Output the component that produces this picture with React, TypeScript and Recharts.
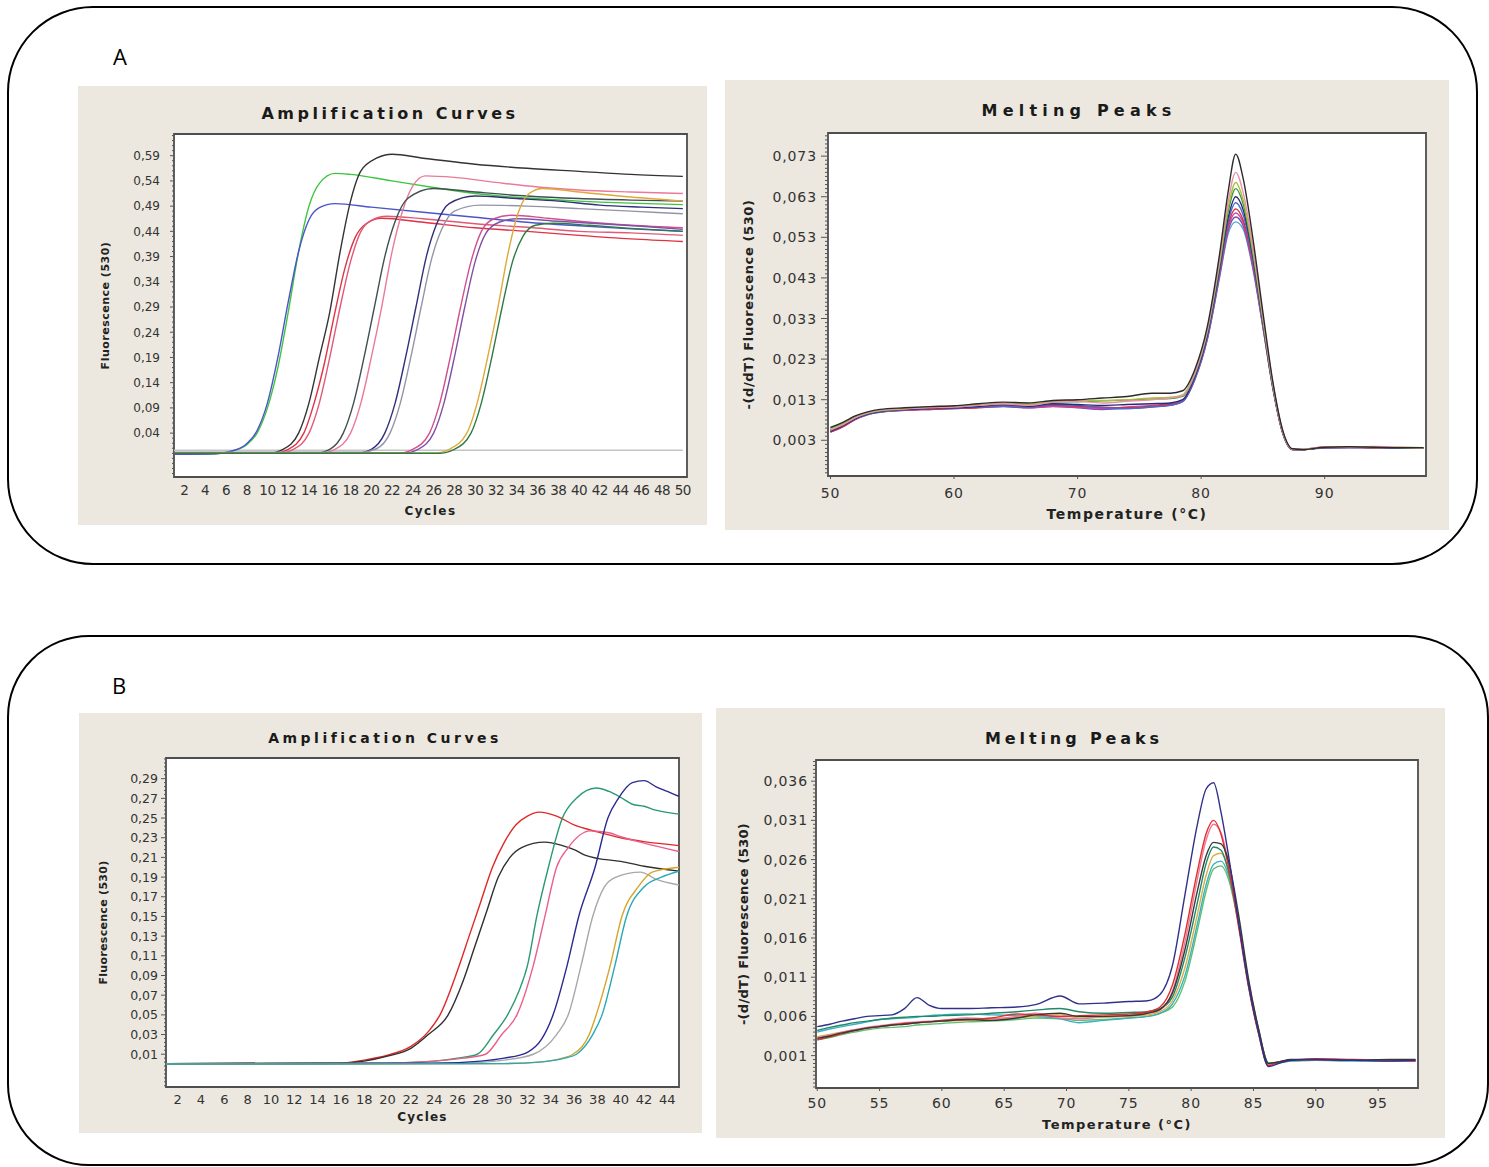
import { LineChart, Line, XAxis, YAxis, CartesianGrid, ReferenceArea } from "recharts";

const FONT = '"DejaVu Sans", Verdana, sans-serif';
const BEIGE = "#ece8df";
const AXIS = "#555";

// ---------- A: amplification curves, [cycle, fluorescence] ----------
const ampAGreen = [[1, -0.002], [5, -0.001], [6.5, 0.004], [8, 0.017], [9, 0.04], [10, 0.09], [11, 0.17], [12, 0.28], [13, 0.4], [14, 0.49], [15, 0.535], [16.5, 0.555], [18, 0.553], [22, 0.54], [26, 0.527], [30, 0.515], [35, 0.506], [40, 0.5], [45, 0.496], [50, 0.493]];
const ampABlue = [[1, -0.002], [5, -0.001], [6.5, 0.004], [8, 0.019], [9, 0.045], [10, 0.1], [11, 0.19], [12, 0.3], [13, 0.4], [14, 0.463], [15, 0.487], [16.5, 0.495], [20, 0.488], [25, 0.478], [30, 0.468], [35, 0.458], [40, 0.451], [45, 0.445], [50, 0.44]];
const ampABlack = [[1, 0], [10, 0], [11.5, 0.008], [13, 0.04], [14, 0.1], [15, 0.19], [16, 0.28], [17, 0.4], [18, 0.5], [19, 0.56], [20.5, 0.585], [22, 0.593], [25, 0.585], [30, 0.573], [35, 0.565], [40, 0.559], [45, 0.553], [50, 0.549]];
const ampARed = [[1, 0], [10.5, 0], [12, 0.008], [13.5, 0.04], [14.5, 0.1], [15.5, 0.18], [16.5, 0.28], [17.5, 0.37], [18.5, 0.43], [19.5, 0.455], [21, 0.466], [25, 0.458], [30, 0.447], [35, 0.44], [40, 0.432], [45, 0.425], [50, 0.42]];
const ampARose = [[1, 0], [11, 0], [12.5, 0.008], [14, 0.04], [15, 0.1], [16, 0.19], [17, 0.29], [18, 0.38], [19, 0.44], [20, 0.462], [21.5, 0.47], [25, 0.465], [30, 0.455], [35, 0.448], [40, 0.44], [45, 0.437], [50, 0.432]];
const ampAPink = [[1, 0], [15, 0], [16.5, 0.008], [18, 0.04], [19, 0.1], [20, 0.19], [21, 0.29], [22, 0.4], [23, 0.48], [24, 0.53], [25.2, 0.55], [28, 0.547], [32, 0.537], [36, 0.528], [40, 0.522], [45, 0.518], [50, 0.515]];
const ampASlate = [[1, 0], [14.5, 0], [16, 0.008], [17.3, 0.04], [18.3, 0.1], [19.3, 0.19], [20.3, 0.29], [21.3, 0.39], [22.3, 0.46], [23.5, 0.505], [26, 0.525], [30, 0.518], [35, 0.51], [40, 0.505], [45, 0.502], [50, 0.5]];
const ampANavy = [[1, 0], [18.5, 0], [20, 0.008], [21.3, 0.04], [22.3, 0.1], [23.3, 0.19], [24.3, 0.29], [25.3, 0.39], [26.3, 0.455], [27.5, 0.495], [30, 0.51], [34, 0.505], [38, 0.5], [42, 0.492], [46, 0.488], [50, 0.485]];
const ampAGrey = [[1, 0.002], [19, 0.002], [20.5, 0.009], [21.8, 0.04], [22.8, 0.1], [23.8, 0.19], [24.8, 0.29], [25.8, 0.385], [26.8, 0.445], [28, 0.48], [30.5, 0.492], [35, 0.49], [40, 0.485], [45, 0.48], [50, 0.475]];
const ampAMagenta = [[1, 0], [22.5, 0], [24, 0.008], [25.6, 0.04], [26.6, 0.1], [27.6, 0.19], [28.6, 0.29], [29.6, 0.38], [30.6, 0.44], [31.8, 0.465], [33.5, 0.472], [37, 0.466], [40, 0.46], [45, 0.452], [50, 0.447]];
const ampAPurple = [[1, 0], [23, 0], [24.5, 0.008], [26, 0.04], [27, 0.1], [28, 0.19], [29, 0.29], [30, 0.38], [31, 0.435], [32.3, 0.458], [34, 0.465], [38, 0.46], [42, 0.455], [46, 0.45], [50, 0.444]];
const ampAOrange = [[1, 0], [26, 0], [27.5, 0.008], [29.2, 0.04], [30.2, 0.1], [31.2, 0.19], [32.2, 0.29], [33.2, 0.4], [34.2, 0.48], [35.2, 0.515], [36.5, 0.525], [40, 0.518], [45, 0.508], [50, 0.5]];
const ampADarkGreen = [[1, 0], [26.5, 0], [28, 0.008], [29.6, 0.04], [30.6, 0.1], [31.6, 0.19], [32.6, 0.29], [33.6, 0.38], [34.6, 0.43], [35.8, 0.452], [37.5, 0.456], [41, 0.452], [45, 0.446], [50, 0.44]];
const ampANegative = [[1, 0.006], [10, 0.006], [20, 0.006], [30, 0.006], [40, 0.006], [50, 0.006]];

const ampAXTicks = [2, 4, 6, 8, 10, 12, 14, 16, 18, 20, 22, 24, 26, 28, 30, 32, 34, 36, 38, 40, 42, 44, 46, 48, 50];
const ampAYTicks = [0.04, 0.09, 0.14, 0.19, 0.24, 0.29, 0.34, 0.39, 0.44, 0.49, 0.54, 0.59];

// ---------- A: melting peaks ----------
const meltATemps = [50, 51, 52, 53, 54, 56, 58, 60, 62, 64, 66, 68, 70, 72, 74, 76, 77.5, 78.5, 79.5, 80.5, 81.5, 82.2, 82.8, 83.4, 84.2, 85, 85.8, 86.6, 87.4, 88.2, 90, 92, 94, 96, 98];
const meltABlack = [0.0062, 0.0074, 0.009, 0.01, 0.0106, 0.011, 0.0113, 0.0115, 0.012, 0.0124, 0.0122, 0.0128, 0.013, 0.0134, 0.0138, 0.0146, 0.0146, 0.0152, 0.0205, 0.031, 0.049, 0.0645, 0.0735, 0.0675, 0.0525, 0.0345, 0.0175, 0.0055, 0.0009, 0.0007, 0.0013, 0.0014, 0.0013, 0.0012, 0.0012];
const meltAPink = [0.0055, 0.0068, 0.0085, 0.0097, 0.0104, 0.0108, 0.011, 0.0112, 0.0116, 0.012, 0.0116, 0.0124, 0.0126, 0.0122, 0.0126, 0.013, 0.0134, 0.014, 0.0195, 0.03, 0.0475, 0.062, 0.069, 0.064, 0.0505, 0.0335, 0.017, 0.0052, 0.0008, 0.0008, 0.0014, 0.0013, 0.0015, 0.0013, 0.0011];
const meltAYellowGreen = [0.0058, 0.007, 0.0086, 0.0098, 0.0103, 0.0107, 0.0112, 0.0114, 0.0118, 0.0121, 0.0119, 0.0125, 0.0129, 0.0128, 0.013, 0.0134, 0.0136, 0.0142, 0.0198, 0.0302, 0.047, 0.0605, 0.0665, 0.0622, 0.0495, 0.033, 0.0168, 0.0052, 0.0008, 0.0008, 0.0013, 0.0013, 0.0012, 0.0013, 0.0012];
const meltAGreen = [0.006, 0.0071, 0.0087, 0.0096, 0.0102, 0.0108, 0.0111, 0.0113, 0.0117, 0.0119, 0.0117, 0.0124, 0.0125, 0.0127, 0.0129, 0.0132, 0.0133, 0.0138, 0.0192, 0.0295, 0.0462, 0.0595, 0.065, 0.0612, 0.0488, 0.0326, 0.0166, 0.0051, 0.0008, 0.0008, 0.0013, 0.0014, 0.0013, 0.0012, 0.0011];
const meltANavy = [0.0052, 0.0066, 0.0083, 0.0095, 0.0101, 0.0106, 0.0108, 0.011, 0.0113, 0.0118, 0.0114, 0.012, 0.0118, 0.0116, 0.0118, 0.012, 0.0122, 0.013, 0.0188, 0.029, 0.0455, 0.058, 0.063, 0.0598, 0.048, 0.0322, 0.0165, 0.005, 0.0008, 0.0007, 0.0012, 0.0013, 0.0012, 0.0012, 0.0011];
const meltABlue = [0.0056, 0.0069, 0.0084, 0.0094, 0.01, 0.0105, 0.0108, 0.0109, 0.0112, 0.0114, 0.0112, 0.0118, 0.0116, 0.011, 0.0108, 0.0112, 0.0116, 0.0126, 0.0184, 0.0285, 0.0448, 0.057, 0.0615, 0.0585, 0.0472, 0.0318, 0.0163, 0.005, 0.0007, 0.0007, 0.0012, 0.0012, 0.0013, 0.0011, 0.0011];
const meltARed = [0.005, 0.0064, 0.0082, 0.0094, 0.01, 0.0104, 0.0106, 0.0108, 0.011, 0.0114, 0.0112, 0.0116, 0.0114, 0.0112, 0.011, 0.0114, 0.0118, 0.0128, 0.0186, 0.0286, 0.0445, 0.0562, 0.06, 0.0572, 0.0465, 0.0315, 0.0162, 0.0049, 0.0007, 0.0007, 0.0012, 0.0013, 0.0012, 0.0012, 0.001];
const meltAMagenta = [0.0054, 0.0067, 0.0084, 0.0095, 0.0102, 0.0106, 0.0107, 0.011, 0.0112, 0.0116, 0.011, 0.0114, 0.0112, 0.0108, 0.0112, 0.0116, 0.012, 0.0127, 0.0183, 0.0282, 0.044, 0.0555, 0.059, 0.0565, 0.046, 0.0312, 0.016, 0.0049, 0.0007, 0.0008, 0.0012, 0.0012, 0.0012, 0.0012, 0.0011];
const meltAPurple = [0.005, 0.0063, 0.0081, 0.0093, 0.0099, 0.0104, 0.0106, 0.0108, 0.0111, 0.0113, 0.011, 0.0113, 0.011, 0.0106, 0.0108, 0.0112, 0.0116, 0.0125, 0.0181, 0.028, 0.0436, 0.0548, 0.058, 0.0558, 0.0455, 0.031, 0.016, 0.0048, 0.0007, 0.0007, 0.0012, 0.0012, 0.0011, 0.0011, 0.001];
const meltALightBlue = [0.0053, 0.0066, 0.0083, 0.0094, 0.01, 0.0105, 0.0107, 0.0109, 0.0112, 0.0115, 0.0112, 0.0115, 0.0113, 0.011, 0.011, 0.0114, 0.0118, 0.0126, 0.018, 0.0278, 0.0432, 0.054, 0.0568, 0.055, 0.045, 0.0308, 0.0158, 0.0048, 0.0007, 0.0007, 0.0011, 0.0012, 0.0012, 0.0011, 0.0011];

const meltAXTicks = [50, 60, 70, 80, 90];
const meltAYTicks = [0.003, 0.013, 0.023, 0.033, 0.043, 0.053, 0.063, 0.073];

// ---------- B: amplification curves ----------
const ampBRed = [[1, 0.0005], [16, 0.001], [18, 0.004], [20, 0.009], [22, 0.018], [23.5, 0.033], [24.5, 0.05], [26, 0.095], [27, 0.13], [28, 0.165], [29, 0.2], [30, 0.225], [31, 0.243], [32, 0.252], [33, 0.256], [34.5, 0.252], [36, 0.243], [38, 0.236], [40, 0.23], [42, 0.226], [45, 0.222]];
const ampBBlack = [[1, 0.0005], [16, 0.001], [18, 0.003], [20, 0.008], [22, 0.016], [23.5, 0.03], [25.2, 0.05], [26.5, 0.085], [27.5, 0.12], [28.5, 0.155], [29.5, 0.19], [30.5, 0.21], [31.5, 0.22], [33.5, 0.2255], [35, 0.222], [36, 0.218], [37, 0.212], [38, 0.209], [40, 0.206], [42, 0.201], [45, 0.196]];
const ampBTeal = [[1, 0], [20, 0.001], [24, 0.003], [26, 0.006], [27.7, 0.01], [29.1, 0.03], [30.3, 0.05], [31.3, 0.075], [32, 0.1], [32.8, 0.15], [33.8, 0.2], [35, 0.25], [36.2, 0.27], [37.9, 0.2805], [39, 0.277], [40, 0.271], [41, 0.264], [42, 0.262], [43, 0.258], [45, 0.254]];
const ampBPink = [[1, 0], [20, 0.001], [24, 0.003], [26.5, 0.006], [28.4, 0.01], [29.8, 0.03], [31.1, 0.05], [32.5, 0.1], [33.5, 0.15], [34.5, 0.2], [35.5, 0.22], [37.4, 0.237], [39, 0.235], [40, 0.231], [42, 0.2245], [45, 0.216]];
const ampBNavy = [[1, 0], [24, 0.001], [28, 0.003], [30, 0.006], [32, 0.012], [33.2, 0.025], [34.2, 0.05], [35.4, 0.1], [36.4, 0.15], [37.8, 0.2], [38.9, 0.25], [39.8, 0.27], [41, 0.286], [42, 0.288], [43, 0.282], [44, 0.277], [45, 0.272]];
const ampBGrey = [[1, 0], [26, 0.001], [30, 0.004], [32.5, 0.01], [34.5, 0.03], [35.5, 0.05], [36.6, 0.1], [37.6, 0.15], [38.6, 0.18], [39.6, 0.19], [41.7, 0.195], [43, 0.188], [45, 0.182]];
const ampBOrange = [[1, 0], [30, 0.0005], [33, 0.002], [35, 0.006], [35.9, 0.01], [37.3, 0.03], [37.9, 0.05], [39.1, 0.1], [40.1, 0.15], [41.5, 0.18], [42.7, 0.195], [45, 0.2]];
const ampBCyan = [[1, 0], [30, 0.0005], [33, 0.002], [35.2, 0.006], [36.2, 0.01], [37.6, 0.03], [38.4, 0.05], [39.5, 0.1], [40.5, 0.15], [42, 0.18], [43.5, 0.19], [45, 0.196]];

const ampBXTicks = [2, 4, 6, 8, 10, 12, 14, 16, 18, 20, 22, 24, 26, 28, 30, 32, 34, 36, 38, 40, 42, 44];
const ampBYTicks = [0.01, 0.03, 0.05, 0.07, 0.09, 0.11, 0.13, 0.15, 0.17, 0.19, 0.21, 0.23, 0.25, 0.27, 0.29];

// ---------- B: melting peaks ----------
const meltBTemps = [50, 51, 52, 53, 54, 55, 56, 57, 58, 59, 60, 62, 64, 66, 67.5, 69.5, 71, 73, 75, 76.5, 77.5, 78.5, 79.5, 80.5, 81.2, 81.8, 82.4, 83, 83.8, 84.6, 85.4, 86.2, 87, 88, 90, 93, 96, 98];
const meltBNavy = [0.0047, 0.005, 0.0054, 0.0057, 0.006, 0.0061, 0.0062, 0.007, 0.0084, 0.0074, 0.007, 0.007, 0.0071, 0.0072, 0.0075, 0.0086, 0.0076, 0.0077, 0.0079, 0.008, 0.0088, 0.0125, 0.0215, 0.0305, 0.035, 0.0358, 0.032, 0.0265, 0.018, 0.01, 0.004, -0.0004, 0, 0.0004, 0.0005, 0.0004, 0.0003, 0.0004];
const meltBRed = [0.003, 0.0034, 0.0038, 0.0042, 0.0045, 0.0047, 0.0049, 0.0051, 0.0052, 0.0053, 0.0055, 0.0056, 0.0058, 0.0063, 0.0062, 0.006, 0.0061, 0.0062, 0.0063, 0.0066, 0.0072, 0.01, 0.0165, 0.0245, 0.0293, 0.031, 0.0292, 0.025, 0.0175, 0.0098, 0.0038, -0.0003, 0.0002, 0.0004, 0.0006, 0.0005, 0.0004, 0.0003];
const meltBPink = [0.0033, 0.0036, 0.004, 0.0043, 0.0046, 0.0048, 0.005, 0.0052, 0.0053, 0.0054, 0.0055, 0.0058, 0.0057, 0.006, 0.0064, 0.0058, 0.0057, 0.006, 0.0061, 0.0064, 0.0068, 0.0092, 0.0155, 0.0235, 0.0285, 0.0305, 0.0294, 0.0255, 0.018, 0.01, 0.004, -0.0002, 0.0002, 0.0004, 0.0005, 0.0004, 0.0004, 0.0003];
const meltBDarkGreen = [0.0042, 0.0046, 0.0049, 0.0052, 0.0054, 0.0056, 0.0058, 0.0059, 0.006, 0.006, 0.0061, 0.0062, 0.0064, 0.0066, 0.0068, 0.007, 0.0066, 0.0064, 0.0065, 0.0066, 0.007, 0.0085, 0.0135, 0.0205, 0.0255, 0.0276, 0.0272, 0.0245, 0.018, 0.0103, 0.0042, 0, 0.0001, 0.0004, 0.0005, 0.0004, 0.0004, 0.0004];
const meltBLightGreen = [0.003, 0.0033, 0.0037, 0.004, 0.0043, 0.0045, 0.0046, 0.0047, 0.0049, 0.005, 0.0051, 0.0053, 0.0054, 0.0056, 0.0058, 0.0057, 0.0055, 0.0056, 0.0058, 0.006, 0.0064, 0.0072, 0.0105, 0.017, 0.022, 0.0248, 0.0252, 0.0235, 0.0178, 0.0105, 0.0044, 0.0001, 0.0001, 0.0003, 0.0004, 0.0004, 0.0003, 0.0003];
const meltBOrange = [0.0034, 0.0037, 0.004, 0.0043, 0.0045, 0.0047, 0.0049, 0.005, 0.0052, 0.0053, 0.0054, 0.0055, 0.0057, 0.0058, 0.006, 0.0062, 0.0058, 0.0059, 0.006, 0.0062, 0.0066, 0.008, 0.0122, 0.019, 0.024, 0.0265, 0.0268, 0.0245, 0.0182, 0.0105, 0.0043, 0, 0.0002, 0.0004, 0.0005, 0.0004, 0.0004, 0.0004];
const meltBCyan = [0.004, 0.0044, 0.0047, 0.005, 0.0053, 0.0056, 0.0057, 0.0058, 0.0059, 0.0061, 0.0062, 0.0063, 0.0062, 0.0061, 0.006, 0.0057, 0.0052, 0.0055, 0.0058, 0.006, 0.0064, 0.0076, 0.0112, 0.0178, 0.0228, 0.0254, 0.0258, 0.024, 0.018, 0.0104, 0.0043, 0, 0.0001, 0.0003, 0.0004, 0.0003, 0.0003, 0.0003];
const meltBBlack = [0.0032, 0.0035, 0.0039, 0.0042, 0.0045, 0.0047, 0.0049, 0.005, 0.0052, 0.0053, 0.0054, 0.0056, 0.0055, 0.0058, 0.0062, 0.0064, 0.006, 0.006, 0.0061, 0.0064, 0.0069, 0.009, 0.0145, 0.022, 0.0265, 0.0282, 0.028, 0.0258, 0.019, 0.0108, 0.0045, 0, 0.0002, 0.0005, 0.0005, 0.0004, 0.0005, 0.0005];

const meltBXTicks = [50, 55, 60, 65, 70, 75, 80, 85, 90, 95];
const meltBYTicks = [0.001, 0.006, 0.011, 0.016, 0.021, 0.026, 0.031, 0.036];

type Pt = { x: number; y: number };
type Series = { color: string; data: Pt[] };

const pairs = (arr: number[][]): Pt[] => arr.map(([x, y]) => ({ x, y }));
const table = (xs: number[], ys: number[]): Pt[] => xs.map((x, i) => ({ x, y: ys[i] }));

const ampASeries: Series[] = [
  { color: "#c4c4c4", data: pairs(ampANegative) },
  { color: "#3fc43f", data: pairs(ampAGreen) },
  { color: "#4a55cc", data: pairs(ampABlue) },
  { color: "#333333", data: pairs(ampABlack) },
  { color: "#dd3344", data: pairs(ampARed) },
  { color: "#e05a78", data: pairs(ampARose) },
  { color: "#ea7a98", data: pairs(ampAPink) },
  { color: "#405050", data: pairs(ampASlate) },
  { color: "#30307a", data: pairs(ampANavy) },
  { color: "#9494a8", data: pairs(ampAGrey) },
  { color: "#d0508c", data: pairs(ampAMagenta) },
  { color: "#8050a8", data: pairs(ampAPurple) },
  { color: "#e0a838", data: pairs(ampAOrange) },
  { color: "#2f7a45", data: pairs(ampADarkGreen) },
];

const meltASeries: Series[] = [
  { color: "#58a8d8", data: table(meltATemps, meltALightBlue) },
  { color: "#7a4ab8", data: table(meltATemps, meltAPurple) },
  { color: "#c84aa0", data: table(meltATemps, meltAMagenta) },
  { color: "#d83038", data: table(meltATemps, meltARed) },
  { color: "#4a6ad0", data: table(meltATemps, meltABlue) },
  { color: "#2a2a78", data: table(meltATemps, meltANavy) },
  { color: "#3a9a3a", data: table(meltATemps, meltAGreen) },
  { color: "#a8c03c", data: table(meltATemps, meltAYellowGreen) },
  { color: "#e890a8", data: table(meltATemps, meltAPink) },
  { color: "#2b2b2b", data: table(meltATemps, meltABlack) },
];

const ampBSeries: Series[] = [
  { color: "#a8a8a8", data: pairs(ampBGrey) },
  { color: "#e02828", data: pairs(ampBRed) },
  { color: "#303030", data: pairs(ampBBlack) },
  { color: "#2a9a70", data: pairs(ampBTeal) },
  { color: "#e8608a", data: pairs(ampBPink) },
  { color: "#2a2a90", data: pairs(ampBNavy) },
  { color: "#d8a428", data: pairs(ampBOrange) },
  { color: "#28a8b8", data: pairs(ampBCyan) },
];

const meltBSeries: Series[] = [
  { color: "#5cc070", data: table(meltBTemps, meltBLightGreen) },
  { color: "#3ab0c0", data: table(meltBTemps, meltBCyan) },
  { color: "#d8b048", data: table(meltBTemps, meltBOrange) },
  { color: "#208a68", data: table(meltBTemps, meltBDarkGreen) },
  { color: "#f07898", data: table(meltBTemps, meltBPink) },
  { color: "#e03030", data: table(meltBTemps, meltBRed) },
  { color: "#383838", data: table(meltBTemps, meltBBlack) },
  { color: "#30308a", data: table(meltBTemps, meltBNavy) },
];

// major ticks plus n subdivisions for the dotted minor ticks
function withMinor(majors: number[], n: number, lo: number, hi: number) {
  const step = (majors[1] - majors[0]) / n;
  const out: number[] = [];
  for (let k = Math.ceil((lo - majors[0]) / step); majors[0] + k * step <= hi; k++) {
    out.push(+(majors[0] + k * step).toFixed(6));
  }
  return out;
}

interface ChartCfg {
  width: number;
  height: number;
  top: number;
  right: number;
  yWidth: number;
  xHeight: number;
  xDomain: [number, number];
  yDomain: [number, number];
  xTicks: number[];
  yTicks: number[];
  minorN: number;
  digits: number;
  yFont: number;
  ySpacing: number;
  yGap: number;
  majorLen: number;
  minorLen: number;
  xFont: number;
  xSpacing: number;
  xTickSize: number;
  xTickMargin: number;
  xTickLine: boolean;
  xLabel: string;
  xLabelFont: number;
  xLabelSpacing: number;
  xLabelOffset: number;
  yLabel: string;
  yLabelFont: number;
  yLabelSpacing: number;
  yLabelOffset: number;
  series: Series[];
  strokeWidth: number;
}

function CurveChart(c: ChartCfg) {
  const ticks = withMinor(c.yTicks, c.minorN, c.yDomain[0], c.yDomain[1]);
  const isMajor = (v: number) => c.yTicks.some((m) => Math.abs(m - v) < 1e-7);
  const yTick = (p: any) => {
    const { x, y, payload } = p;
    const v = payload.value as number;
    if (!isMajor(v)) {
      return <line x1={x - c.minorLen} x2={x} y1={y} y2={y} stroke={AXIS} strokeWidth={1} />;
    }
    return (
      <g>
        <line x1={x - c.majorLen} x2={x} y1={y} y2={y} stroke={AXIS} strokeWidth={1} />
        <text x={x - c.yGap} y={y} dy="0.36em" textAnchor="end" fontSize={c.yFont} fontFamily={FONT} letterSpacing={c.ySpacing} fill="#333">
          {v.toFixed(c.digits).replace(".", ",")}
        </text>
      </g>
    );
  };
  return (
    <LineChart width={c.width} height={c.height} margin={{ top: c.top, right: c.right, bottom: 0, left: 0 }}>
      <CartesianGrid horizontal={false} vertical={false} fill="#ffffff" />
      <XAxis
        type="number"
        dataKey="x"
        domain={c.xDomain}
        allowDataOverflow
        ticks={c.xTicks}
        interval={0}
        height={c.xHeight}
        axisLine={false}
        tickLine={c.xTickLine ? { stroke: AXIS } : false}
        tickSize={c.xTickSize}
        tickMargin={c.xTickMargin}
        tick={{ fontSize: c.xFont, fill: "#333", fontFamily: FONT, letterSpacing: c.xSpacing }}
        label={{ value: c.xLabel, position: "insideBottom", offset: c.xLabelOffset, fontSize: c.xLabelFont, fontWeight: "bold", fontFamily: FONT, fill: "#222", letterSpacing: c.xLabelSpacing }}
      />
      <YAxis
        type="number"
        domain={c.yDomain}
        allowDataOverflow
        ticks={ticks}
        interval={0}
        width={c.yWidth}
        axisLine={false}
        tickLine={false}
        tickSize={0}
        tickMargin={0}
        tick={yTick}
        label={{ value: c.yLabel, angle: -90, position: "insideLeft", offset: c.yLabelOffset, fontSize: c.yLabelFont, fontWeight: "bold", fontFamily: FONT, fill: "#222", letterSpacing: c.yLabelSpacing, style: { textAnchor: "middle" } }}
      />
      {c.series.map((s, i) => (
        <Line key={i} data={s.data} dataKey="y" type="monotone" stroke={s.color} strokeWidth={c.strokeWidth} dot={false} activeDot={false} isAnimationActive={false} />
      ))}
      <ReferenceArea x1={c.xDomain[0]} x2={c.xDomain[1]} y1={c.yDomain[0]} y2={c.yDomain[1]} fill="none" stroke="#4e4e4e" strokeWidth={1.8} />
    </LineChart>
  );
}

function Panel(props: { left: number; top: number; width: number; height: number; title: string; titleX: number; titleY: number; titleSize: number; titleSpacing: number; children: any }) {
  const { left, top, width, height, title, titleX, titleY, titleSize, titleSpacing, children } = props;
  return (
    <div style={{ position: "absolute", left, top, width, height, background: BEIGE }}>
      {children}
      <div
        style={{
          position: "absolute",
          left: titleX,
          top: titleY,
          transform: "translateX(-50%)",
          whiteSpace: "nowrap",
          fontFamily: FONT,
          fontWeight: "bold",
          fontSize: titleSize,
          letterSpacing: titleSpacing,
          lineHeight: 1,
          color: "#1a1a1a",
        }}
      >
        {title}
      </div>
    </div>
  );
}

const frameStyle = (left: number, top: number, width: number, height: number, radius: number): any => ({
  position: "absolute",
  left,
  top,
  width,
  height,
  border: "2px solid #000",
  borderRadius: radius,
  boxSizing: "border-box",
});

const letterStyle = (left: number, top: number): any => ({
  position: "absolute",
  left,
  top,
  fontFamily: '"Open Sans", sans-serif',
  fontSize: 22,
  lineHeight: 1,
  color: "#000",
});

export default function App() {
  return (
    <div style={{ position: "absolute", left: 0, top: 0, width: 1489, height: 1167, background: "#fff", overflow: "hidden" }}>
      <div style={frameStyle(7, 6, 1471, 559, 86)} />
      <div style={frameStyle(7, 635, 1482, 531, 82)} />
      <div style={letterStyle(113, 45)}>A</div>
      <div style={letterStyle(112, 674)}>B</div>

      <Panel left={78} top={86} width={629} height={439} title="Amplification Curves" titleX={312} titleY={20} titleSize={16} titleSpacing={3.5}>
        <CurveChart
          width={629} height={439} top={48} right={20} yWidth={96} xHeight={48}
          xDomain={[1, 50.4]} yDomain={[-0.047, 0.633]} xTicks={ampAXTicks} yTicks={ampAYTicks}
          minorN={5} digits={2} yFont={12} ySpacing={0} yGap={14} majorLen={4} minorLen={2}
          xFont={13.5} xSpacing={-0.5} xTickSize={4} xTickMargin={4} xTickLine={false}
          xLabel="Cycles" xLabelFont={12} xLabelSpacing={1.5} xLabelOffset={10}
          yLabel="Fluorescence (530)" yLabelFont={11} yLabelSpacing={0.5} yLabelOffset={27}
          series={ampASeries} strokeWidth={1.4}
        />
      </Panel>

      <Panel left={725} top={80} width={724} height={450} title="Melting Peaks" titleX={354} titleY={23} titleSize={16} titleSpacing={5.2}>
        <CurveChart
          width={724} height={450} top={53} right={23} yWidth={103} xHeight={54}
          xDomain={[49.8, 98.2]} yDomain={[-0.0058, 0.0787]} xTicks={meltAXTicks} yTicks={meltAYTicks}
          minorN={10} digits={3} yFont={14} ySpacing={0.9} yGap={11} majorLen={7} minorLen={3}
          xFont={14} xSpacing={0.9} xTickSize={3} xTickMargin={9} xTickLine={true}
          xLabel="Temperature (°C)" xLabelFont={14} xLabelSpacing={1.6} xLabelOffset={11}
          yLabel="-(d/dT) Fluorescence (530)" yLabelFont={13} yLabelSpacing={0.6} yLabelOffset={23}
          series={meltASeries} strokeWidth={1.4}
        />
      </Panel>

      <Panel left={79} top={713} width={623} height={420} title="Amplification Curves" titleX={306} titleY={18} titleSize={14} titleSpacing={3.5}>
        <CurveChart
          width={623} height={420} top={45} right={23} yWidth={87} xHeight={46}
          xDomain={[1, 45]} yDomain={[-0.0233, 0.311]} xTicks={ampBXTicks} yTicks={ampBYTicks}
          minorN={5} digits={2} yFont={12.5} ySpacing={0} yGap={8} majorLen={5} minorLen={2}
          xFont={13} xSpacing={0} xTickSize={3} xTickMargin={5} xTickLine={false}
          xLabel="Cycles" xLabelFont={12} xLabelSpacing={1.2} xLabelOffset={12}
          yLabel="Fluorescence (530)" yLabelFont={11} yLabelSpacing={0.3} yLabelOffset={24}
          series={ampBSeries} strokeWidth={1.4}
        />
      </Panel>

      <Panel left={716} top={708} width={729} height={430} title="Melting Peaks" titleX={358} titleY={23} titleSize={16} titleSpacing={3.9}>
        <CurveChart
          width={729} height={430} top={52} right={27} yWidth={100} xHeight={50}
          xDomain={[49.9, 98.2]} yDomain={[-0.00313, 0.0387]} xTicks={meltBXTicks} yTicks={meltBYTicks}
          minorN={10} digits={3} yFont={14} ySpacing={0.9} yGap={8} majorLen={5} minorLen={3}
          xFont={14} xSpacing={0.9} xTickSize={3} xTickMargin={7} xTickLine={true}
          xLabel="Temperature (°C)" xLabelFont={13} xLabelSpacing={1.5} xLabelOffset={9}
          yLabel="-(d/dT) Fluorescence (530)" yLabelFont={13} yLabelSpacing={0.3} yLabelOffset={27}
          series={meltBSeries} strokeWidth={1.4}
        />
      </Panel>
    </div>
  );
}
